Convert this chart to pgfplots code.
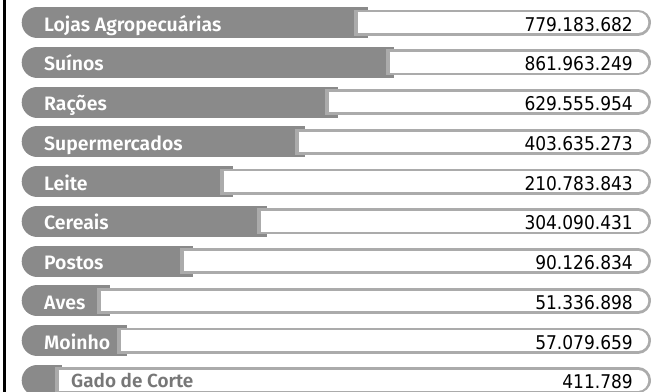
\documentclass[border=0pt]{standalone}
\usepackage{pgfplots}
\usepackage{pgfplotstable}
\pgfplotsset{compat=1.18}
\usepackage{fontspec}
\setmainfont{Fira Sans}
\newfontfamily\labelfont{Fira Sans SemiBold}
\newfontfamily\numfont{DejaVu Sans Condensed}
\definecolor{barg}{HTML}{8A8A8A}
\definecolor{pillb}{HTML}{ABABAB}
\definecolor{gadot}{HTML}{777777}

\pgfplotstableread[col sep=comma]{
i,name,val,gend,ps
0,Lojas Agropecuárias,779.183.682,368,354
1,Suínos,861.963.249,394,386
2,Rações,629.555.954,338,325
3,Supermercados,403.635.273,305,295
4,Leite,210.783.843,233,220
5,Cereais,304.090.431,267,257
6,Postos,90.126.834,193,180
7,Aves,51.336.898,110,97
8,Moinho,57.079.659,127,117
9,Gado de Corte,411.789,62,55
}\data

\begin{document}
\begin{tikzpicture}
\begin{axis}[
  width=652bp, height=391bp, scale only axis,
  hide axis,
  xmin=0, xmax=652,
  ymin=-0.566, ymax=9.270,
  y dir=reverse,
  clip=false,
]
\coordinate (SW) at (rel axis cs:0,0);
\coordinate (NE) at (rel axis cs:1,1);
% gray bars: rounded left cap + square body
\addplot[barg, line width=31bp, line cap=round, quiver={u=1, v=0}]
  table[x expr=37.2, y=i] {\data};
\addplot[barg, line width=31bp, line cap=butt, quiver={u=\thisrow{gend}-37.2, v=0}]
  table[x expr=37.2, y=i] {\data};
% pill border
\addplot[pillb, line width=26bp, line cap=butt, quiver={u=638-\thisrow{ps}, v=0}]
  table[x=ps, y=i] {\data};
\addplot[pillb, line width=26bp, line cap=round, quiver={u=1, v=0}]
  table[x expr=637, y=i] {\data};
% pill interior
\addplot[white, line width=20.5bp, line cap=butt, quiver={u=638-\thisrow{ps}-3.5, v=0}]
  table[x expr=\thisrow{ps}+3.5, y=i] {\data};
\addplot[white, line width=20.5bp, line cap=round, quiver={u=1, v=0}]
  table[x expr=637, y=i] {\data};
% category names
\addplot[only marks, mark=none, point meta=explicit symbolic,
  skip coords between index={9}{10},
  nodes near coords={\labelfont\fontsize{19.5}{21}\selectfont\pgfplotspointmeta},
  nodes near coords style={anchor=base west, text=white, inner sep=0pt, yshift=-8.5bp}]
  table[x expr=44, y=i, meta=name] {\data};
\addplot[only marks, mark=none, point meta=explicit symbolic,
  skip coords between index={0}{9},
  nodes near coords={\labelfont\fontsize{19}{21}\selectfont\pgfplotspointmeta},
  nodes near coords style={anchor=base west, text=gadot, inner sep=0pt, yshift=-7bp}]
  table[x expr=71, y=i, meta=name] {\data};
% values
\addplot[only marks, mark=none, point meta=explicit symbolic,
  nodes near coords={\numfont\fontsize{19}{21}\selectfont\pgfplotspointmeta},
  nodes near coords style={anchor=base east, text=black, inner sep=0pt, yshift=-8.5bp}]
  table[x expr=633, y=i, meta=val] {\data};
% left frame line
\draw[black, line width=2.4bp] (axis cs:4.5,-0.6) -- (axis cs:4.5,9.3);
\end{axis}
\pgfresetboundingbox
\path[use as bounding box] (SW) rectangle (NE);
\end{tikzpicture}
\end{document}
